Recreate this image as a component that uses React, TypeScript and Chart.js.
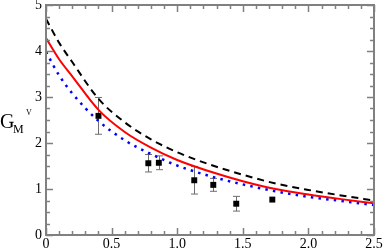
import { useEffect, useRef } from "react";
import { Chart, registerables } from "chart.js";

Chart.register(...registerables);

// Curve sample positions (Q^2) and values
const curveQ2 = [0, 0.1, 0.2, 0.4, 0.6, 0.8, 1.0, 1.25, 1.5, 1.75, 2.0, 2.25, 2.5];
const dashedValues = [4.7, 4.18, 3.76, 2.96, 2.45, 2.08, 1.8, 1.53, 1.31, 1.12, 0.98, 0.86, 0.75];
const redValues = [4.28, 3.82, 3.45, 2.72, 2.24, 1.9, 1.63, 1.38, 1.17, 1.0, 0.88, 0.78, 0.69];
const blueValues = [3.98, 3.47, 3.08, 2.48, 2.06, 1.76, 1.51, 1.28, 1.1, 0.95, 0.83, 0.74, 0.65];

// Experimental points
const dataQ2 = [0.4, 0.78, 0.86, 1.13, 1.275, 1.45, 1.725];
const dataGM = [2.59, 1.56, 1.57, 1.19, 1.09, 0.68, 0.77];
const dataErr = [0.4, 0.19, 0.15, 0.3, 0.14, 0.16, 0.0];

// Axis settings
const xMin = 0, xMax = 2.5, xMajorStep = 0.5, xMinorStep = 0.1;
const yMin = 0, yMax = 5, yMajorStep = 1, yMinorStep = 0.25;

const FRAME = "#808080";
const SERIF = "'Liberation Serif', 'DejaVu Serif', serif";

export default function App() {
  const ref = useRef<HTMLCanvasElement | null>(null);

  useEffect(() => {
    document.body.style.margin = "0";
    const canvas = ref.current;
    if (!canvas) return;

    const framePlugin = {
      id: "framePlugin",
      beforeDatasetsDraw(chart: any) {
        const { ctx, chartArea, scales } = chart;
        const xs = scales.x, ys = scales.y;
        ctx.save();
        // error bars
        ctx.strokeStyle = "#6e6e6e";
        ctx.lineWidth = 1;
        for (let i = 0; i < dataQ2.length; i++) {
          if (!dataErr[i]) continue;
          const px = Math.round(xs.getPixelForValue(dataQ2[i])) + 0.5;
          const top = ys.getPixelForValue(dataGM[i] + dataErr[i]);
          const bot = ys.getPixelForValue(dataGM[i] - dataErr[i]);
          ctx.beginPath();
          ctx.moveTo(px, top); ctx.lineTo(px, bot);
          ctx.moveTo(px - 3.5, top); ctx.lineTo(px + 3.5, top);
          ctx.moveTo(px - 3.5, bot); ctx.lineTo(px + 3.5, bot);
          ctx.stroke();
        }
        ctx.restore();
      },
      afterDraw(chart: any) {
        const { ctx, chartArea, scales } = chart;
        const xs = scales.x, ys = scales.y;
        const { left, right, top, bottom } = chartArea;
        ctx.save();
        ctx.strokeStyle = FRAME;
        ctx.lineWidth = 1.5;
        // ticks
        ctx.beginPath();
        const nx = Math.round((xMax - xMin) / xMinorStep);
        for (let k = 0; k <= nx; k++) {
          const v = xMin + k * xMinorStep;
          const major = Math.abs(v / xMajorStep - Math.round(v / xMajorStep)) < 1e-6;
          const len = major ? 7 : 4;
          const px = Math.round(xs.getPixelForValue(v)) + 0.5;
          ctx.moveTo(px, bottom); ctx.lineTo(px, bottom - len);
          ctx.moveTo(px, top); ctx.lineTo(px, top + len);
        }
        const ny = Math.round((yMax - yMin) / yMinorStep);
        for (let k = 0; k <= ny; k++) {
          const v = yMin + k * yMinorStep;
          const major = Math.abs(v / yMajorStep - Math.round(v / yMajorStep)) < 1e-6;
          const len = major ? 7 : 4;
          const py = Math.round(ys.getPixelForValue(v)) + 0.5;
          ctx.moveTo(left, py); ctx.lineTo(left + len, py);
          ctx.moveTo(right, py); ctx.lineTo(right - len, py);
        }
        ctx.stroke();
        // frame
        ctx.lineWidth = 2;
        ctx.strokeRect(left, top, right - left, bottom - top);
        // axis title G_M^V
        ctx.fillStyle = "#000";
        ctx.textBaseline = "alphabetic";
        ctx.textAlign = "left";
        ctx.font = `20px ${SERIF}`;
        ctx.fillText("G", 0, 128);
        ctx.font = `12px ${SERIF}`;
        ctx.fillText("M", 13, 132.5);
        ctx.font = `8px ${SERIF}`;
        ctx.fillText("V", 26, 114.5);
        ctx.restore();
      },
    };

    const chart = new Chart(canvas, {
      type: "scatter",
      data: {
        datasets: [
          {
            label: "dashed",
            data: curveQ2.map((q, i) => ({ x: q, y: dashedValues[i] })),
            showLine: true,
            borderColor: "#000000",
            borderWidth: 2,
            borderDash: [7, 5],
            pointRadius: 0,
            cubicInterpolationMode: "monotone",
          },
          {
            label: "red",
            data: curveQ2.map((q, i) => ({ x: q, y: redValues[i] })),
            showLine: true,
            borderColor: "#ff0000",
            borderWidth: 2,
            pointRadius: 0,
            cubicInterpolationMode: "monotone",
          },
          {
            label: "blue",
            data: curveQ2.map((q, i) => ({ x: q, y: blueValues[i] })),
            showLine: true,
            borderColor: "#0000ff",
            borderWidth: 2.5,
            borderDash: [2.5, 5.2],
            pointRadius: 0,
            cubicInterpolationMode: "monotone",
          },
          {
            label: "data",
            data: dataQ2.map((q, i) => ({ x: q, y: dataGM[i] })),
            showLine: false,
            pointStyle: "rect",
            pointRadius: 4.2,
            pointBackgroundColor: "#000000",
            pointBorderColor: "#000000",
            pointBorderWidth: 0,
          },
        ],
      },
      options: {
        responsive: false,
        animation: false,
        events: [],
        layout: { padding: { top: 5, right: 10, left: 0, bottom: 0 } },
        plugins: { legend: { display: false }, tooltip: { enabled: false } },
        scales: {
          x: {
            type: "linear",
            min: xMin,
            max: xMax,
            grid: { display: false, drawTicks: false },
            border: { display: false },
            ticks: {
              stepSize: xMajorStep,
              padding: 1,
              color: "#000",
              font: { family: SERIF, size: 14 },
              maxRotation: 0,
            },
            afterFit: (s: any) => {
              s.height = 15;
              s.paddingLeft = 0;
              s.paddingRight = 0;
            },
          },
          y: {
            type: "linear",
            min: yMin,
            max: yMax,
            grid: { display: false, drawTicks: false },
            border: { display: false },
            ticks: {
              stepSize: yMajorStep,
              padding: 4,
              color: "#000",
              font: { family: SERIF, size: 14 },
            },
            afterFit: (s: any) => {
              s.width = 46;
              s.paddingTop = 0;
              s.paddingBottom = 0;
            },
          },
        },
      },
      plugins: [framePlugin],
    });

    return () => chart.destroy();
  }, []);

  return <canvas ref={ref} width={384} height={250} style={{ display: "block" }} />;
}
